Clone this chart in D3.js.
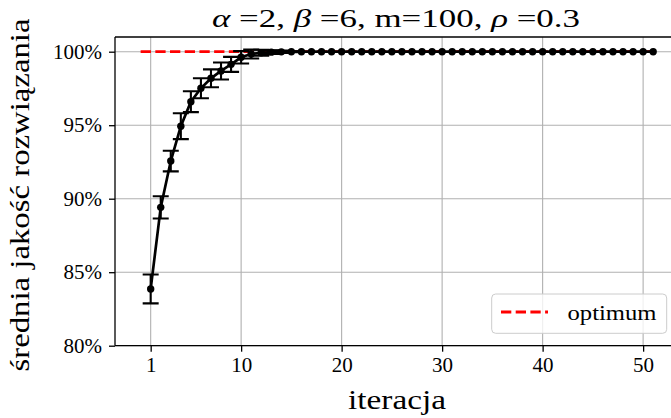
<!DOCTYPE html>
<html>
<head>
<meta charset="utf-8">
<script src="https://cdn.jsdelivr.net/npm/d3@7"></script>
<style>
  html, body { margin: 0; padding: 0; background: #fff; }
  svg { display: block; }
</style>
</head>
<body>
<svg id="chart" width="671" height="418"></svg>
<script>
// ---- data ----
const iterations = d3.range(1, 52);
const meanQuality = [
  83.86, 89.41, 92.56, 94.93, 96.60, 97.51, 98.19, 98.69, 99.14, 99.62,
  99.84, 99.93, 99.97, 99.99, 100.0, 100.0, 100.0, 100.0, 100.0, 100.0,
  100.0, 100.0, 100.0, 100.0, 100.0, 100.0, 100.0, 100.0, 100.0, 100.0,
  100.0, 100.0, 100.0, 100.0, 100.0, 100.0, 100.0, 100.0, 100.0, 100.0,
  100.0, 100.0, 100.0, 100.0, 100.0, 100.0, 100.0, 100.0, 100.0, 100.0,
  100.0
];
const errQuality = [
  0.98, 0.76, 0.70, 0.88, 0.71, 0.68, 0.61, 0.58, 0.51, 0.42,
  0.30, 0.20, 0.12, 0.08, 0.03, 0, 0, 0, 0, 0,
  0, 0, 0, 0, 0, 0, 0, 0, 0, 0,
  0, 0, 0, 0, 0, 0, 0, 0, 0, 0,
  0, 0, 0, 0, 0, 0, 0, 0, 0, 0,
  0
];
const optimumX = [0, 51];
const optimumY = [100, 100];
const xTicks = [1, 10, 20, 30, 40, 50];
const yTicks = [80, 85, 90, 95, 100];
const titleParts = [
  {t: "α", it: true}, {t: " =2, ", it: false},
  {t: "β", it: true}, {t: " =6, m=100, ", it: false},
  {t: "ρ", it: true}, {t: " =0.3", it: false}
];
const xLabel = "iteracja";
const yLabel = "średnia jakość rozwiązania";
const legendLabel = "optimum";

const FONT = "'Liberation Serif', 'Tinos', 'Times New Roman', serif";

// ---- layout ----
const svg = d3.select("#chart");
const L = 115, R = 678.8, T = 37, B = 345.7;

const x = d3.scaleLinear().domain([-2.55, 53.55]).range([L, R]);
const y = d3.scaleLinear().domain([80, 101]).range([B, T]);

const clipId = "plotclip";
svg.append("defs").append("clipPath").attr("id", clipId)
  .append("rect").attr("x", L).attr("y", T).attr("width", R - L).attr("height", B - T);

// grid
const grid = svg.append("g");
grid.selectAll(".gx").data(xTicks).enter().append("line")
  .attr("x1", d => x(d)).attr("x2", d => x(d)).attr("y1", T).attr("y2", B)
  .attr("stroke", "#b0b0b0").attr("stroke-width", 1.1);
grid.selectAll(".gy").data(yTicks).enter().append("line")
  .attr("x1", L).attr("x2", R).attr("y1", d => y(d)).attr("y2", d => y(d))
  .attr("stroke", "#b0b0b0").attr("stroke-width", 1.1);

const plot = svg.append("g").attr("clip-path", `url(#${clipId})`);

// optimum line
plot.append("path")
  .datum(optimumX.map((d, i) => [d, optimumY[i]]))
  .attr("d", d3.line().x(d => x(d[0])).y(d => y(d[1])))
  .attr("fill", "none").attr("stroke", "#ff0000").attr("stroke-width", 2.8)
  .attr("stroke-dasharray", "10.3 4.4");

const pts = iterations.map((it, i) => ({x: it, y: meanQuality[i], e: errQuality[i]}));

// main line
plot.append("path")
  .datum(pts)
  .attr("d", d3.line().x(d => x(d.x)).y(d => y(d.y)))
  .attr("fill", "none").attr("stroke", "#000").attr("stroke-width", 2.7);

// error bars
const eb = plot.append("g").attr("stroke", "#000").attr("stroke-width", 2.1);
const ebData = pts.filter(d => d.e > 0);
eb.selectAll(".v").data(ebData).enter().append("line")
  .attr("x1", d => x(d.x)).attr("x2", d => x(d.x))
  .attr("y1", d => y(d.y - d.e)).attr("y2", d => y(d.y + d.e));
eb.selectAll(".ct").data(ebData).enter().append("line")
  .attr("x1", d => x(d.x) - 8).attr("x2", d => x(d.x) + 8)
  .attr("y1", d => y(d.y + d.e)).attr("y2", d => y(d.y + d.e));
eb.selectAll(".cb").data(ebData).enter().append("line")
  .attr("x1", d => x(d.x) - 8).attr("x2", d => x(d.x) + 8)
  .attr("y1", d => y(d.y - d.e)).attr("y2", d => y(d.y - d.e));

// markers
plot.selectAll(".dot").data(pts).enter().append("circle")
  .attr("cx", d => x(d.x)).attr("cy", d => y(d.y)).attr("r", 3.7).attr("fill", "#000");

// axes
const xAxis = d3.axisBottom(x).tickValues(xTicks).tickSize(6).tickPadding(5)
  .tickFormat(d3.format("d"));
const gx = svg.append("g").attr("transform", `translate(0,${B})`).call(xAxis)
  .attr("font-family", null).attr("font-size", null);
gx.select(".domain").remove();
gx.selectAll("line").attr("stroke", "#000").attr("stroke-width", 1.3);
gx.selectAll("text").attr("font-size", 21).style("font-family", FONT)
  .attr("dy", "0.75em").attr("fill", "#000");

const yAxis = d3.axisLeft(y).tickValues(yTicks).tickSize(6).tickPadding(7)
  .tickFormat(d => d + "%");
const gy = svg.append("g").attr("transform", `translate(${L},0)`).call(yAxis)
  .attr("font-family", null).attr("font-size", null);
gy.select(".domain").remove();
gy.selectAll("line").attr("stroke", "#000").attr("stroke-width", 1.3);
gy.selectAll("text").attr("font-size", 21).style("font-family", FONT).attr("fill", "#000");

// spines
const sp = svg.append("g").attr("stroke", "#000").attr("stroke-width", 1.3).attr("fill", "none");
sp.append("line").attr("x1", L).attr("x2", L).attr("y1", T).attr("y2", B);
sp.append("line").attr("x1", L).attr("x2", R).attr("y1", B).attr("y2", B);
sp.append("line").attr("x1", L).attr("x2", R).attr("y1", T).attr("y2", T);
sp.append("line").attr("x1", R).attr("x2", R).attr("y1", T).attr("y2", B);

// title
const title = svg.append("text").attr("x", 396).attr("y", 27)
  .attr("text-anchor", "middle").attr("font-size", 26).style("font-family", FONT)
  .attr("textLength", 368).attr("lengthAdjust", "spacingAndGlyphs");
titleParts.forEach(p => {
  title.append("tspan").text(p.t).attr("font-style", p.it ? "italic" : "normal");
});

// axis labels
svg.append("text").attr("x", 397).attr("y", 409).attr("text-anchor", "middle")
  .attr("font-size", 28).style("font-family", FONT)
  .attr("textLength", 98).attr("lengthAdjust", "spacingAndGlyphs")
  .text(xLabel);
svg.append("text").attr("transform", "translate(29,195) rotate(-90)")
  .attr("text-anchor", "middle").attr("font-size", 28).style("font-family", FONT)
  .attr("textLength", 353).attr("lengthAdjust", "spacingAndGlyphs")
  .text(yLabel);

// legend
const lg = svg.append("g");
lg.append("rect").attr("x", 491.7).attr("y", 294).attr("width", 175).attr("height", 39.3)
  .attr("rx", 4).attr("fill", "#fff").attr("fill-opacity", 0.8)
  .attr("stroke", "#cccccc").attr("stroke-width", 1);
lg.append("line").attr("x1", 501).attr("x2", 548).attr("y1", 312).attr("y2", 312)
  .attr("stroke", "#ff0000").attr("stroke-width", 2.8).attr("stroke-dasharray", "10.3 4.4");
lg.append("text").attr("x", 567.5).attr("y", 320).attr("font-size", 22).style("font-family", FONT)
  .attr("textLength", 89).attr("lengthAdjust", "spacingAndGlyphs").text(legendLabel);
</script>
</body>
</html>
